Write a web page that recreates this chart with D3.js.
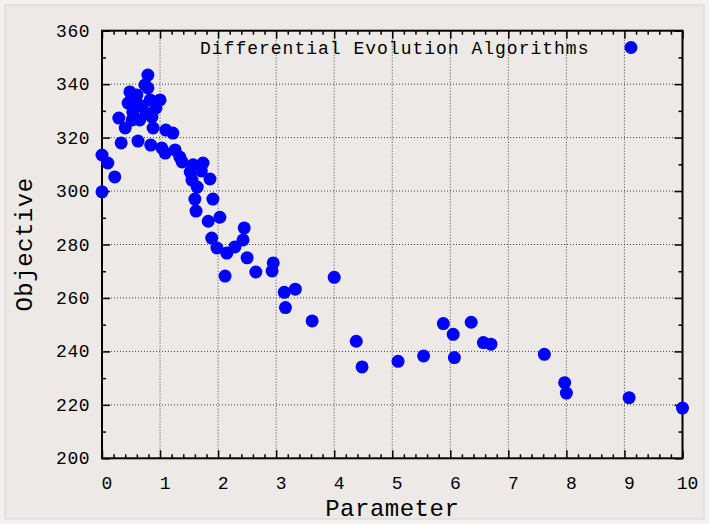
<!DOCTYPE html>
<html lang="en">
    <head>
        <meta charset="utf-8">
        <title>Differential Evolution Algorithms</title>
        <script type="text/javascript" src="https://cdn.jsdelivr.net/npm/d3@7/dist/d3.min.js"></script>
        <style type="text/css">
            body { margin: 0; background: #f4f2f0; }
            text { font-family: "Courier New", "Liberation Mono", monospace; fill: #000; }
            .grid line { stroke: #444; stroke-width: 1; stroke-dasharray: 1, 2; }
        </style>
    </head>
    <body>
        <div class="example"></div>
        <script type="text/javascript">
            // data
            var paramValues = [
                0.00, 0.00, 0.10, 0.22, 0.33, 0.29, 0.40, 0.45, 0.48, 0.53,
                0.57, 0.52, 0.62, 0.65, 0.60, 0.69, 0.74, 0.79, 0.79, 0.76,
                0.83, 0.86, 0.88, 0.93, 1.00, 0.84, 1.03, 1.09, 1.10, 1.22,
                1.26, 1.34, 1.38, 1.57, 1.74, 1.52, 1.71, 1.86, 1.55, 1.64,
                1.60, 1.91, 1.62, 1.83, 2.03, 1.89, 1.98, 2.15, 2.29, 2.45,
                2.43, 2.50, 2.12, 2.65, 2.95, 2.93, 3.14, 3.33, 3.16, 3.62,
                4.00, 4.38, 4.48, 5.10, 5.54, 5.88, 6.05, 6.36, 6.07, 6.57,
                6.70, 7.62, 7.97, 8.00, 9.08, 10.00
            ];
            var objectiveValues = [
                313.5, 299.7, 310.5, 305.3, 318.0, 327.3, 323.6, 332.9, 337.1, 329.6,
                334.1, 326.6, 318.7, 326.6, 335.9, 331.8, 339.7, 343.4, 338.6, 329.2,
                334.1, 327.7, 323.6, 331.1, 334.1, 317.2, 316.1, 314.2, 322.8, 321.7,
                315.4, 312.7, 310.9, 309.8, 310.5, 307.1, 307.5, 304.5, 304.1, 301.5,
                297.0, 297.0, 292.5, 288.7, 290.2, 282.4, 278.7, 276.8, 279.1, 286.2,
                281.7, 275.0, 268.2, 269.7, 273.1, 270.1, 262.1, 263.3, 256.4, 251.4,
                267.7, 243.8, 234.2, 236.3, 238.3, 250.4, 246.4, 250.9, 237.7, 243.3,
                242.7, 238.9, 228.3, 224.4, 222.7, 218.8
            ];
            var xTicks = [0, 1, 2, 3, 4, 5, 6, 7, 8, 9, 10];
            var yTicks = [200, 220, 240, 260, 280, 300, 320, 340, 360];
            var legendLabel = "Differential Evolution Algorithms";

            var dataset = paramValues.map(function(d, i){ return {x: d, y: objectiveValues[i]}; });

            // SVG
            var w = 709;
            var h = 524;
            var pLeft = 102, pRight = 682.5, pTop = 30.7, pBottom = 458.3;
            var svg = d3.select("body div.example")
                        .append("svg")
                        .attr("width", w)
                        .attr("height", h);

            // background panel
            svg.append("rect")
               .attr("x", 5).attr("y", 5)
               .attr("width", w - 10).attr("height", h - 10)
               .attr("fill", "#ece9e6")
               .attr("stroke", "#d8d5d2");

            // scales
            var xScale = d3.scaleLinear().domain([0, 10]).range([pLeft, pRight]);
            var yScale = d3.scaleLinear().domain([200, 360]).range([pBottom, pTop]);

            // dotted grid at major ticks
            var grid = svg.append("g").attr("class", "grid");
            grid.selectAll("line.gx")
                .data(xTicks.slice(1, -1))
                .enter().append("line")
                .attr("x1", function(d){ return xScale(d); })
                .attr("x2", function(d){ return xScale(d); })
                .attr("y1", pTop).attr("y2", pBottom);
            grid.selectAll("line.gy")
                .data(yTicks.slice(1, -1))
                .enter().append("line")
                .attr("y1", function(d){ return yScale(d); })
                .attr("y2", function(d){ return yScale(d); })
                .attr("x1", pLeft).attr("x2", pRight);

            // axes: ticks on all four sides, pointing inwards
            var xMinor = d3.range(0, 10.01, 0.2);
            var yMinor = d3.range(200, 360.1, 10);
            function tickLen(v, step){ return Math.abs(v / step - Math.round(v / step)) < 1e-6 ? 8 : 4; }

            svg.append("g")
               .attr("transform", "translate(0," + pBottom + ")")
               .call(d3.axisBottom(xScale).tickValues(xMinor).tickSize(0).tickFormat(""))
               .call(function(g){
                   g.select(".domain").remove();
                   g.selectAll(".tick line").attr("y2", function(d){ return -tickLen(d, 1); })
                    .attr("stroke", "#000").attr("stroke-width", 1.5);
               });
            svg.append("g")
               .attr("transform", "translate(0," + pTop + ")")
               .call(d3.axisTop(xScale).tickValues(xMinor).tickSize(0).tickFormat(""))
               .call(function(g){
                   g.select(".domain").remove();
                   g.selectAll(".tick line").attr("y2", function(d){ return tickLen(d, 1); })
                    .attr("stroke", "#000").attr("stroke-width", 1.5);
               });
            svg.append("g")
               .attr("transform", "translate(" + pLeft + ",0)")
               .call(d3.axisLeft(yScale).tickValues(yMinor).tickSize(0).tickFormat(""))
               .call(function(g){
                   g.select(".domain").remove();
                   g.selectAll(".tick line").attr("x2", function(d){ return tickLen(d, 20); })
                    .attr("stroke", "#000").attr("stroke-width", 1.5);
               });
            svg.append("g")
               .attr("transform", "translate(" + pRight + ",0)")
               .call(d3.axisRight(yScale).tickValues(yMinor).tickSize(0).tickFormat(""))
               .call(function(g){
                   g.select(".domain").remove();
                   g.selectAll(".tick line").attr("x2", function(d){ return -tickLen(d, 20); })
                    .attr("stroke", "#000").attr("stroke-width", 1.5);
               });

            // frame
            svg.append("rect")
               .attr("x", pLeft).attr("y", pTop)
               .attr("width", pRight - pLeft).attr("height", pBottom - pTop)
               .attr("fill", "none")
               .attr("stroke", "#000")
               .attr("stroke-width", 2);

            // tick labels (x labels sit a little right of their ticks)
            svg.selectAll("text.xlab")
               .data(xTicks)
               .enter().append("text")
               .attr("class", "xlab")
               .attr("x", function(d){ return xScale(d) + 5; })
               .attr("y", 489)
               .attr("text-anchor", "middle")
               .attr("font-size", 18)
               .text(function(d){ return d; });
            svg.selectAll("text.ylab")
               .data(yTicks)
               .enter().append("text")
               .attr("class", "ylab")
               .attr("x", 90)
               .attr("y", function(d){ return yScale(d) + 6; })
               .attr("text-anchor", "end")
               .attr("font-size", 18)
               .attr("letter-spacing", 0.5)
               .text(function(d){ return d; });

            // axis titles
            svg.append("text")
               .attr("x", (pLeft + pRight) / 2)
               .attr("y", 516)
               .attr("text-anchor", "middle")
               .attr("font-size", 24)
               .attr("letter-spacing", 0.5)
               .text("Parameter");
            svg.append("text")
               .attr("transform", "translate(32," + (pTop + pBottom) / 2 + ") rotate(-90)")
               .attr("text-anchor", "middle")
               .attr("font-size", 24)
               .attr("letter-spacing", 0.5)
               .text("Objective");

            // points
            svg.selectAll("circle.pt")
               .data(dataset)
               .enter()
               .append("circle")
               .attr("class", "pt")
               .attr("cx", function(d){ return xScale(d.x); })
               .attr("cy", function(d){ return yScale(d.y); })
               .attr("r", 6.5)
               .attr("fill", "#0000ff");

            // legend
            svg.append("text")
               .attr("x", 200)
               .attr("y", 54)
               .attr("font-size", 18)
               .attr("letter-spacing", 1)
               .text(legendLabel);
            svg.append("circle")
               .attr("cx", 631)
               .attr("cy", 47.5)
               .attr("r", 6.5)
               .attr("fill", "#0000ff");
        </script>
    </body>
</html>
